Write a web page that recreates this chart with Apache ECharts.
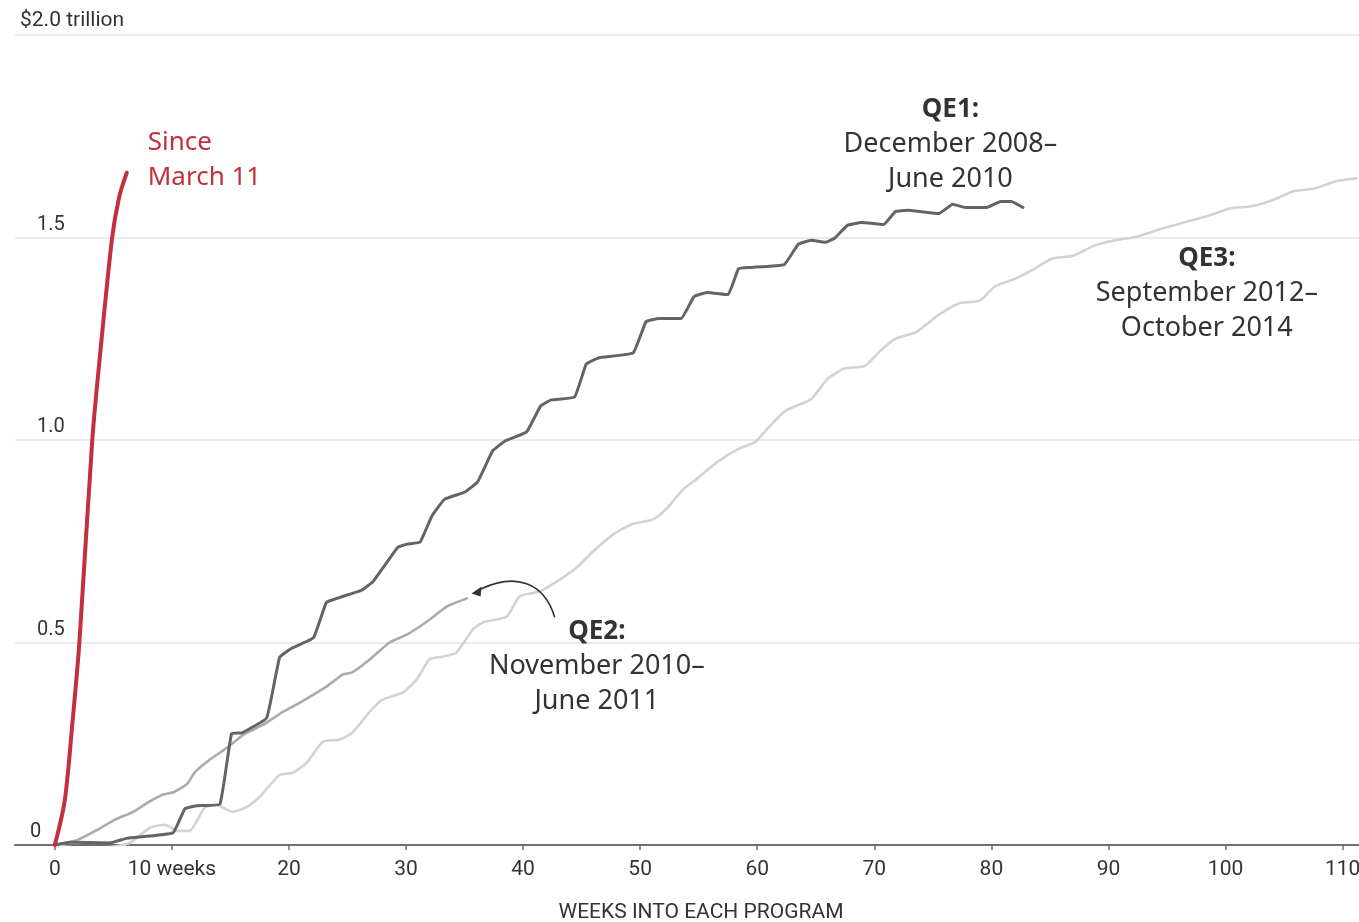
<!DOCTYPE html>
<html>
<head>
<meta charset="utf-8">
<script src="https://cdn.jsdelivr.net/npm/echarts@6/dist/echarts.min.js"></script>
<style>
  html, body { margin: 0; padding: 0; background: #fff; }
  #chart { width: 1359px; height: 922px; }
</style>
</head>
<body>
<div id="chart"></div>
<script>
// Fed asset purchases, cumulative, in trillions of dollars, by weeks into each program
const sinceMarch11 = [[0, 0], [0.85, 0.11], [1.5, 0.3], [2.1, 0.5], [3.2, 1.0], [4.0, 1.25], [4.9, 1.5], [5.5, 1.6], [6.15, 1.66]];

const qe1 = [
  [0, 0], [1.3, 0.007], [4.7, 0.005], [6.2, 0.017], [10.1, 0.03], [11.1, 0.089], [12.1, 0.097], [14.1, 0.101],
  [15.1, 0.275], [16.0, 0.277], [18.1, 0.314], [19.2, 0.463], [20.2, 0.485], [22.1, 0.512], [23.2, 0.599],
  [24.3, 0.611], [26.2, 0.629], [27.2, 0.651], [29.3, 0.735], [30.1, 0.743], [31.2, 0.748], [32.2, 0.812],
  [33.3, 0.854], [35.0, 0.871], [36.1, 0.896], [37.4, 0.973], [38.5, 0.998], [40.3, 1.02], [41.5, 1.084],
  [42.4, 1.099], [44.4, 1.106], [45.4, 1.188], [46.5, 1.203], [49.4, 1.215], [50.5, 1.292], [51.6, 1.3],
  [53.5, 1.3], [54.6, 1.354], [55.7, 1.364], [57.5, 1.359], [58.4, 1.423], [59.4, 1.426], [62.3, 1.433],
  [63.5, 1.483], [64.6, 1.493], [65.8, 1.488], [66.6, 1.498], [67.7, 1.53], [68.9, 1.537], [70.8, 1.532],
  [71.8, 1.564], [72.9, 1.567], [75.5, 1.559], [76.7, 1.582], [77.8, 1.574], [79.6, 1.574], [80.8, 1.589],
  [81.7, 1.589], [82.7, 1.574]
];

const qe2 = [
  [0, 0], [1.9, 0.012], [3.6, 0.037], [5.1, 0.062], [6.7, 0.082], [7.9, 0.104], [9.2, 0.124], [10.2, 0.131],
  [11.3, 0.151], [12.0, 0.181], [13.2, 0.21], [14.7, 0.24], [16.1, 0.272], [17.8, 0.297], [19.5, 0.329],
  [20.9, 0.351], [23.2, 0.391], [24.6, 0.421], [25.4, 0.426], [26.9, 0.458], [28.6, 0.5], [30.1, 0.52],
  [31.8, 0.552], [33.5, 0.589], [35.2, 0.609]
];

const qe3 = [
  [0, 0], [2.1, -0.007], [4.7, -0.005], [6.4, 0.005], [8.1, 0.042], [9.4, 0.05], [10.5, 0.035], [11.5, 0.035],
  [12.8, 0.092], [13.8, 0.099], [15.2, 0.082], [16.4, 0.094], [17.5, 0.119], [19.2, 0.173], [20.3, 0.178],
  [21.5, 0.203], [22.9, 0.255], [24.3, 0.26], [25.4, 0.277], [26.9, 0.329], [28.0, 0.359], [29.7, 0.376],
  [30.9, 0.408], [32.0, 0.458], [33.1, 0.465], [34.3, 0.475], [35.7, 0.532], [36.6, 0.55], [38.6, 0.564],
  [39.7, 0.614], [41.4, 0.626], [42.8, 0.649], [44.6, 0.686], [45.9, 0.723], [47.7, 0.767], [49.3, 0.792],
  [51.1, 0.804], [52.2, 0.829], [53.7, 0.879], [54.8, 0.903], [56.6, 0.946], [58.4, 0.978], [59.8, 0.995],
  [61.1, 1.035], [62.4, 1.072], [64.6, 1.101], [66.0, 1.151], [67.4, 1.176], [69.2, 1.183], [70.5, 1.22],
  [71.8, 1.25], [73.6, 1.267], [75.4, 1.307], [77.2, 1.337], [79.0, 1.344], [80.3, 1.379], [82.1, 1.399],
  [83.4, 1.418], [85.2, 1.448], [87.0, 1.455], [88.8, 1.48], [90.6, 1.493], [92.4, 1.502], [94.6, 1.522],
  [96.8, 1.54], [98.6, 1.554], [100.4, 1.572], [102.2, 1.577], [104.0, 1.592], [105.8, 1.614], [107.6, 1.621],
  [109.4, 1.639], [111.2, 1.646]
];

const xTicks = [0, 10, 20, 30, 40, 50, 60, 70, 80, 90, 100, 110];
const xTickLabels = ['0', '10 weeks', '20', '30', '40', '50', '60', '70', '80', '90', '100', '110'];
const yTicks = [0, 0.5, 1.0, 1.5, 2.0];
const yTickLabels = ['0', '0.5', '1.0', '1.5', '$2.0 trillion'];
const xAxisTitle = 'WEEKS INTO EACH PROGRAM';

const NARROW = "'Liberation Sans Narrow', 'Roboto', sans-serif";
const TEXT = "'Noto Sans', 'Open Sans', sans-serif";
const RED = '#c3303d';

const chart = echarts.init(document.getElementById('chart'), null, { renderer: 'canvas' });

chart.setOption({
  animation: false,
  backgroundColor: '#ffffff',
  grid: { left: 15, right: 0, top: 35, bottom: 77, containLabel: false, outerBoundsMode: 'none' },
  xAxis: {
    type: 'value',
    min: -3.4,
    max: 111.4,
    name: xAxisTitle,
    nameLocation: 'middle',
    nameGap: 57,
    nameTextStyle: { fontFamily: NARROW, fontSize: 21, color: '#333', padding: [0, 0, 0, 28] },
    axisLine: { show: true, onZero: false, lineStyle: { color: '#6e6e6e', width: 2 } },
    axisTick: { show: true, customValues: xTicks, length: 5, lineStyle: { color: '#6e6e6e', width: 1.5 } },
    axisLabel: {
      customValues: xTicks,
      margin: 14,
      fontFamily: NARROW,
      fontSize: 21,
      color: '#333',
      formatter: v => { const i = xTicks.indexOf(v); return i >= 0 ? xTickLabels[i] : ''; }
    },
    splitLine: { show: false }
  },
  yAxis: {
    type: 'value',
    min: 0,
    max: 2,
    interval: 0.5,
    axisLine: { show: false },
    axisTick: { show: false },
    splitLine: { show: true, lineStyle: { color: '#e4e4e4', width: 1.5 } },
    axisLabel: {
      inside: true,
      margin: 5,
      align: 'left',
      verticalAlign: 'bottom',
      fontFamily: NARROW,
      fontSize: 21,
      color: '#333',
      formatter: v => {
        const i = yTicks.findIndex(t => Math.abs(t - v) < 1e-9);
        const s = i >= 0 ? yTickLabels[i] : '';
        if (v >= 2) return '{t|' + s + '}';
        if (v === 0) return '{z|' + s + '}';
        return '{n|' + s + '}';
      },
      rich: {
        t: { fontFamily: NARROW, fontSize: 21, color: '#333', padding: [0, 0, 4, 0] },
        n: { fontFamily: NARROW, fontSize: 20, color: '#333', padding: [0, 0, 3, 17] },
        z: { fontFamily: NARROW, fontSize: 20, color: '#333', padding: [0, 0, 3, 10] }
      }
    }
  },
  series: [
    {
      name: 'QE3', type: 'line', data: qe3, showSymbol: false, smooth: 0.2, z: 2,
      lineStyle: { color: '#d2d2d2', width: 2.6, cap: 'round', join: 'round' }
    },
    {
      name: 'QE2', type: 'line', data: qe2, showSymbol: false, smooth: 0.2, z: 3,
      lineStyle: { color: '#ababab', width: 2.6, cap: 'round', join: 'round' }
    },
    {
      name: 'QE1', type: 'line', data: qe1, showSymbol: false, smooth: 0.1, z: 4,
      lineStyle: { color: '#646464', width: 3, cap: 'round', join: 'round' }
    },
    {
      name: 'Since March 11', type: 'line', data: sinceMarch11, showSymbol: false, smooth: 0.3, z: 5,
      lineStyle: { color: RED, width: 4, cap: 'round', join: 'round' }
    }
  ]
});

// Annotations anchored in data space (weeks, trillions)
const px = (w, v) => chart.convertToPixel({ gridIndex: 0 }, [w, v]);

function label(anchor, lines, color, align, size) {
  const p = px(anchor[0], anchor[1]);
  return {
    type: 'text',
    x: p[0], y: p[1], z: 20,
    style: {
      text: lines,
      align: align || 'center',
      verticalAlign: 'middle',
      fontFamily: TEXT,
      fontSize: size,
      lineHeight: 35,
      fill: color,
      rich: {
        b: { fontFamily: TEXT, fontSize: size - 1, fontWeight: 'bold', fill: color, lineHeight: 35 },
        r: { fontFamily: TEXT, fontSize: size, fill: color, lineHeight: 35 }
      }
    }
  };
}

const arrowStart = px(42.7, 0.562);
const arrowC1 = px(41.8, 0.650);
const arrowC2 = px(39.3, 0.672);
const arrowEnd = px(36.4, 0.632);
const arrowTip = px(35.6, 0.621);

chart.setOption({
  graphic: [
    label([7.94, 1.690], '{r|Since}\n{r|March 11}', RED, 'left', 26),
    label([76.5, 1.729], '{b|QE1:}\n{r|December 2008–}\n{r|June 2010}', '#333', 'center', 27),
    label([98.4, 1.361], '{b|QE3:}\n{r|September 2012–}\n{r|October 2014}', '#333', 'center', 27),
    label([46.3, 0.440], '{b|QE2:}\n{r|November 2010–}\n{r|June 2011}', '#333', 'center', 27),
    {
      type: 'bezierCurve', z: 20,
      shape: {
        x1: arrowStart[0], y1: arrowStart[1],
        cpx1: arrowC1[0], cpy1: arrowC1[1],
        cpx2: arrowC2[0], cpy2: arrowC2[1],
        x2: arrowEnd[0], y2: arrowEnd[1]
      },
      style: { stroke: '#333', lineWidth: 1.6, fill: null }
    },
    {
      type: 'polygon', z: 21,
      shape: {
        points: [
          [arrowTip[0], arrowTip[1]],
          [arrowTip[0] + 10, arrowTip[1] - 7],
          [arrowTip[0] + 9, arrowTip[1] + 3]
        ]
      },
      style: { fill: '#333' }
    }
  ]
});
</script>
</body>
</html>
